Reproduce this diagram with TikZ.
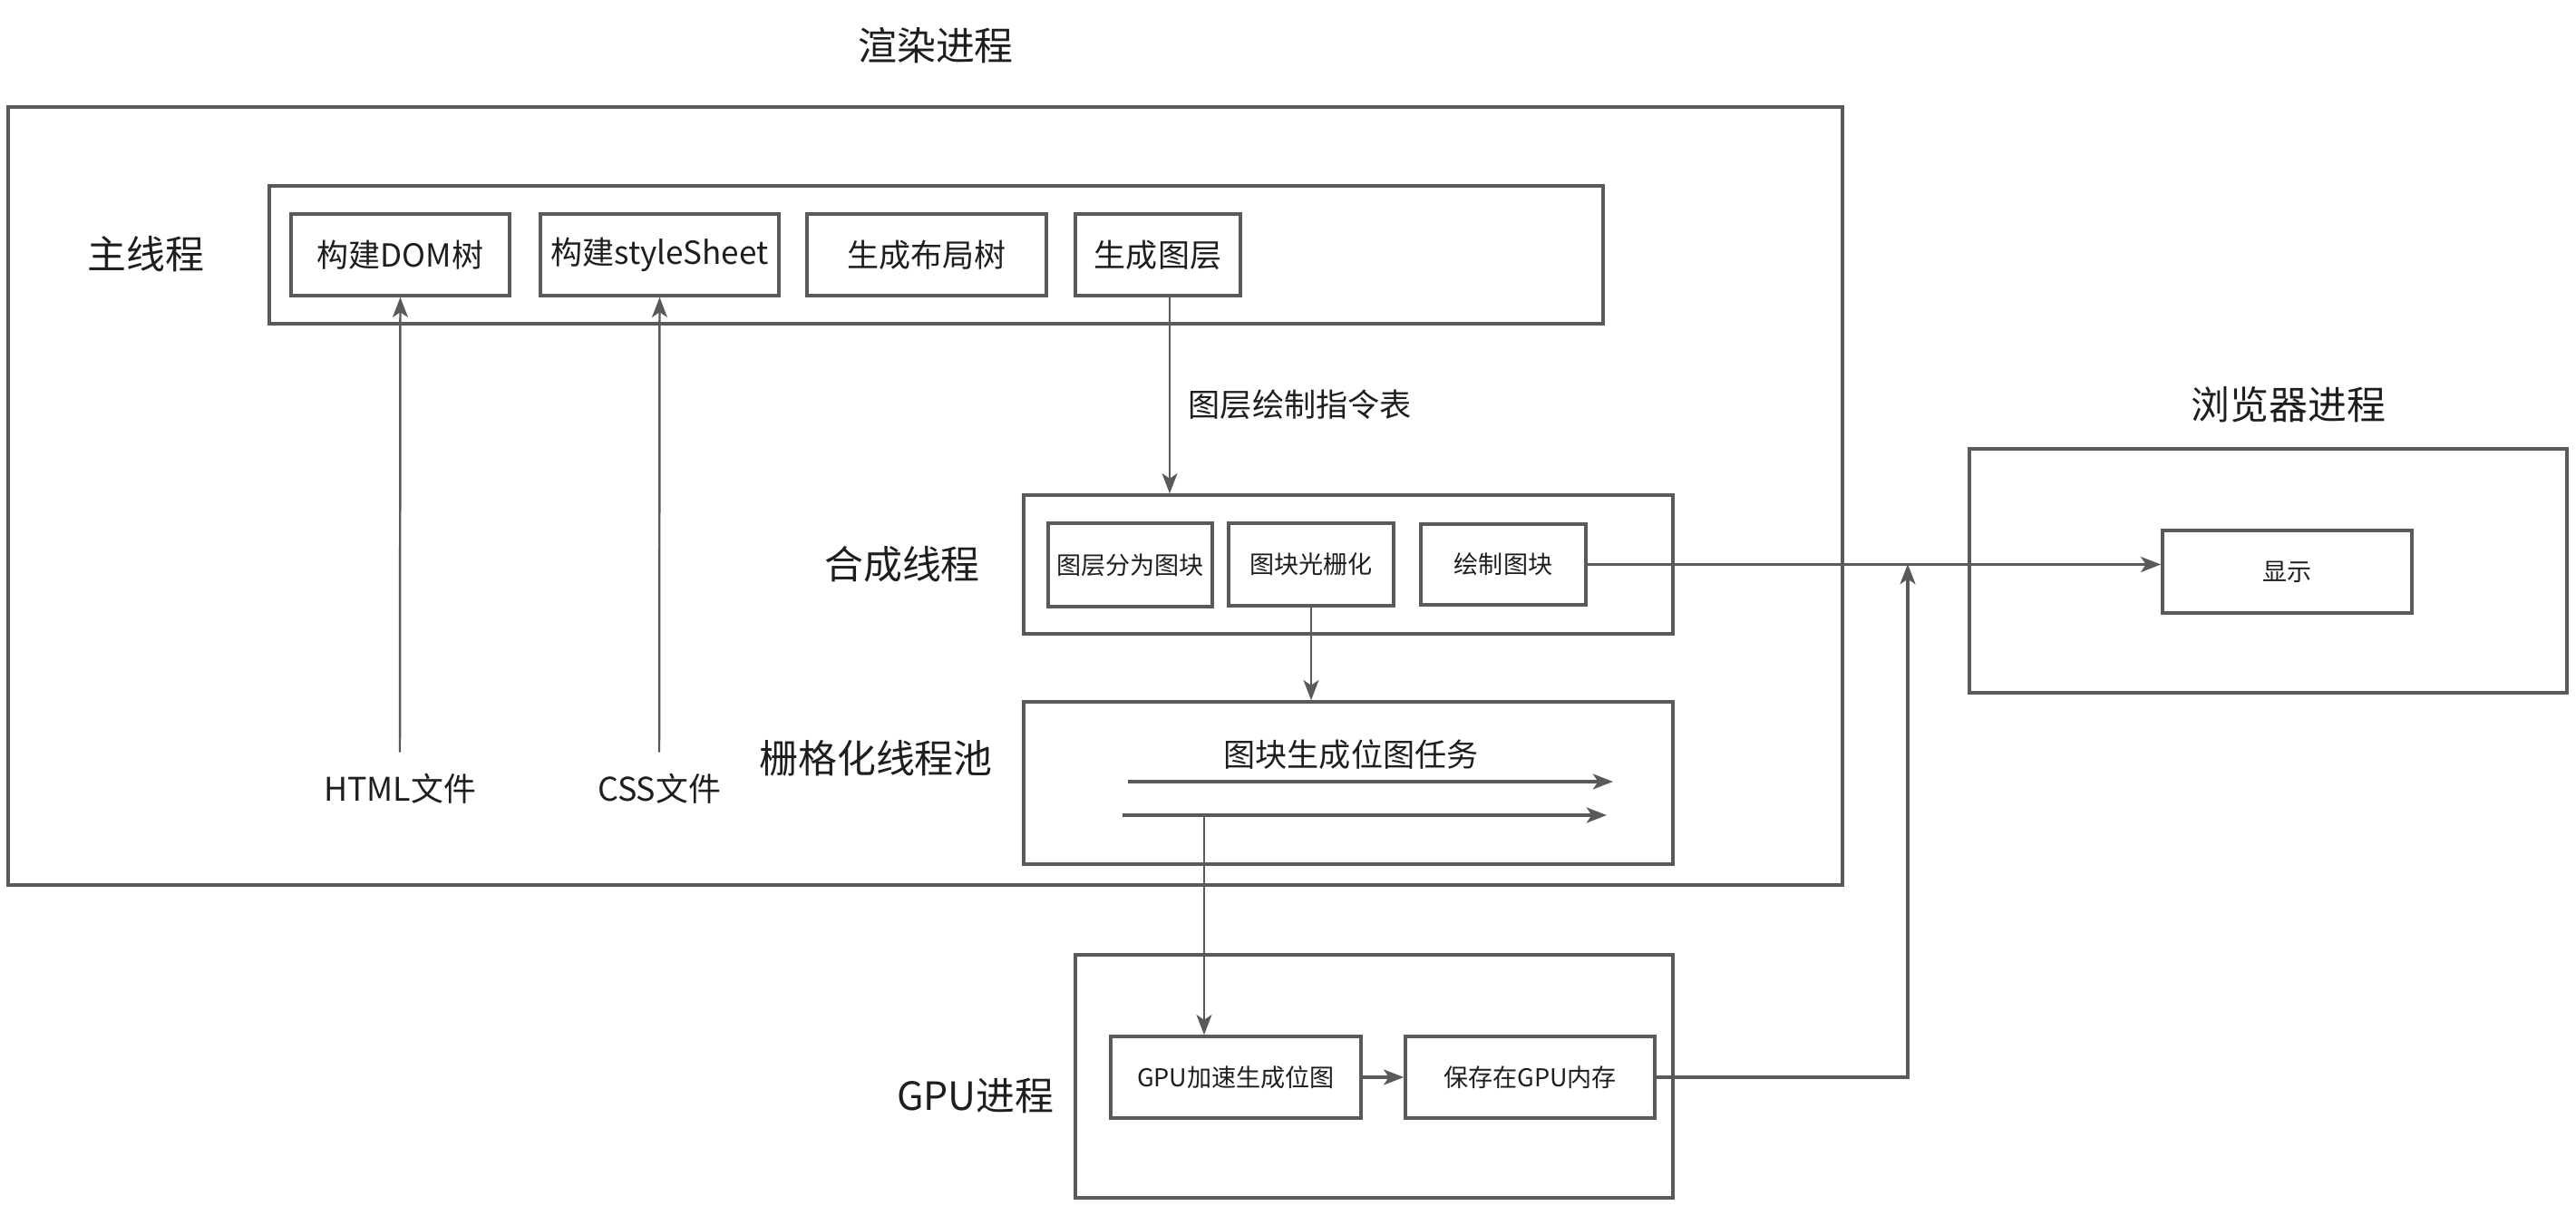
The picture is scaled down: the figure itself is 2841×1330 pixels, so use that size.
\documentclass[tikz,border=0pt]{standalone}
\usepackage{fontspec}
\newfontfamily\cjk{Noto Sans CJK SC}
\usetikzlibrary{fit,arrows.meta}
\definecolor{lc}{RGB}{90,90,90}
\definecolor{tc}{RGB}{30,30,30}
\begin{document}
\begin{tikzpicture}[x=0.01cm,y=-0.01cm,
  cbox/.style={draw=lc, line width=1pt, inner sep=0pt},
  box/.style={cbox, label={[text=tc, inner sep=0pt, font=\cjk\fontsize{9.96}{12}\selectfont]center:#1}},
  sbox/.style={cbox, label={[text=tc, inner sep=0pt, font=\cjk\fontsize{7.7}{9}\selectfont]center:#1}},
  biglbl/.style={text=tc, inner sep=0pt, font=\cjk\fontsize{12.2}{14}\selectfont},
  midlbl/.style={text=tc, inner sep=0pt, font=\cjk\fontsize{10}{12}\selectfont},
  filelbl/.style={text=tc, inner sep=0pt, font=\cjk\fontsize{10.2}{12}\selectfont},
  tip/.style={-{Stealth[length=6.3pt,width=4.8pt,inset=1.6pt]}},
  conn/.style={draw=lc, line width=0.7pt, tip},
  tconn/.style={draw=lc, line width=1pt, tip}
]
\useasboundingbox (0,0) rectangle (2841,1330);

% containers
\node[cbox, fit={(9,118) (2032,976)}] (render) {};
\node[cbox, fit={(297,205) (1768,357)}] (main) {};
\node[cbox, fit={(1129,546) (1845,699)}] (comp) {};
\node[cbox, fit={(1129,774) (1845,953)}] (pool) {};
\node[cbox, fit={(1186,1053) (1845,1321)}] (gpu) {};
\node[cbox, fit={(2172,495) (2831,764)}] (browser) {};

% main thread boxes
\node[box={构建DOM树}, fit={(321,236) (562,326)}] (dom) {};
\node[box={构建styleSheet}, fit={(596,236) (859,326)}] (style) {};
\node[box={生成布局树}, fit={(890,236) (1154,326)}] (layout) {};
\node[box={生成图层}, fit={(1186,236) (1368,326)}] (layer) {};

% compositor boxes
\node[sbox={图层分为图块}, fit={(1156,577) (1337,669)}] (split) {};
\node[sbox={图块光栅化}, fit={(1355,577) (1537,668)}] (rast) {};
\node[sbox={绘制图块}, fit={(1567,578) (1749,667)}] (drawtile) {};

% gpu boxes
\node[sbox={GPU加速生成位图}, fit={(1225,1143) (1501,1233)}] (gpugen) {};
\node[sbox={保存在GPU内存}, fit={(1550,1143) (1825,1233)}] (save) {};

% browser box
\node[sbox={显示}, fit={(2385,585) (2660,676)}] (show) {};

% labels
\node[biglbl] (lrender) at (1032,50) {渲染进程};
\node[biglbl] (lmain) at (161,280) {主线程};
\node[biglbl] (lcomp) at (995,622) {合成线程};
\node[biglbl] (lpool) at (966,836) {栅格化线程池};
\node[biglbl] (lgpu) at (1076,1208) {GPU进程};
\node[biglbl] (lbrowser) at (2524,446) {浏览器进程};
\node[midlbl, anchor=west] (lcmd) at (1310,446) {图层绘制指令表};
\node[midlbl] (ltask) at (1490,832) {图块生成位图任务};
\node[filelbl] (html) at (441,870) {HTML文件};
\node[filelbl] (css) at (727,870) {CSS文件};

% coordinates
\coordinate (t1s) at (1244,862);
\coordinate (t1e) at (1779,862);
\coordinate (t2s) at (1238,899);
\coordinate (t2e) at (1772,899);
\coordinate (t2a) at (1328,899);
\coordinate (merge) at (2104,622);
\coordinate (lay) at (1290,326);

% connectors
\draw[conn] (html.north) ++(0,-23) -- (dom.south);
\draw[conn] (css.north) ++(0,-23) -- (style.south);
\draw[conn] (lay) -- (lay |- comp.north);
\draw[conn] (rast.south) -- (rast.south |- pool.north);
\draw[tconn] (drawtile.east) -- (drawtile.east -| show.west);
\draw[tconn] (t1s) -- (t1e);
\draw[tconn] (t2s) -- (t2e);
\draw[conn] (t2a) -- (t2a |- gpugen.north);
\draw[tconn] (gpugen.east) -- (save.west);
\draw[tconn] (save.east) -| (merge);
\end{tikzpicture}
\end{document}
